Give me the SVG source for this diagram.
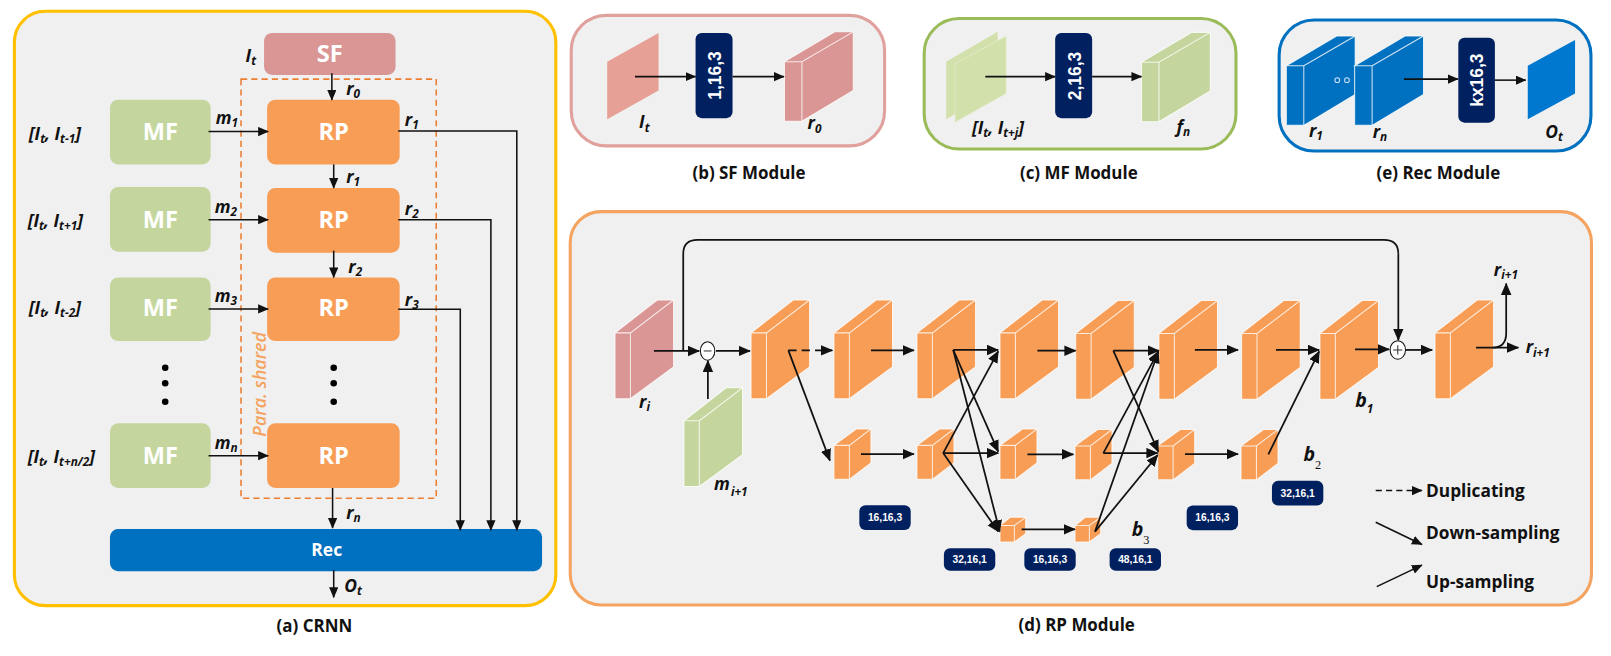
<svg xmlns="http://www.w3.org/2000/svg" width="1611" height="656" viewBox="0 0 1611 656">
<style>
text{font-family:"Open Sans","Liberation Sans",sans-serif;font-weight:700;fill:#111}
.cap{font-size:16.5px;text-anchor:middle}
.lbl{font-size:17px;font-style:italic}
.sub{font-size:11.5px}
.ser{font-family:"Liberation Serif",serif;font-weight:400;font-style:normal;font-size:12px}
.box{font-size:23px;fill:#fff;text-anchor:middle}
.bad{font-family:"Liberation Sans",sans-serif;font-size:10px;fill:#fff;text-anchor:middle}
.vb{font-family:"Liberation Sans",sans-serif;font-size:17px;fill:#fff;text-anchor:middle}
.leg{font-size:16.8px}
.panel{fill:#f0f0f0;stroke-width:3}
.ln{fill:none;stroke:#111;stroke-width:1.5}
.ar{marker-end:url(#a)}
.cube{stroke:#fff;stroke-width:1;stroke-opacity:.8}
#d-links .ln{stroke-width:1.7}
</style>
<defs>
<marker id="a" markerWidth="7" markerHeight="7" refX="6.5" refY="3" orient="auto" markerUnits="strokeWidth"><path d="M0 0L7 3L0 6Z" fill="#111"/></marker>
<g id="cb"><path class="cube" d="M0 32L41 0H57L15 32ZM15 32L57 0V65L15 96ZM0 32H15V96H0Z"/></g>
<g id="cs"><path class="cube" d="M0 16L22 0H36L15 16ZM15 16L36 0V33L15 49ZM0 16H15V49H0Z"/></g>
<g id="ct"><path class="cube" d="M0 8L10 0H25L14 8ZM14 8L25 0V16L14 24ZM0 8H14V24H0Z"/></g>
<g id="cm"><path class="cube" d="M0 29L49 0H67L17 29ZM17 29L67 0V57L17 87ZM0 29H17V87H0Z"/></g>
</defs>
<g id="root" transform="scale(1.02742)">
<g id="panel-a">
<rect class="panel" x="14" y="11" width="527" height="578.5" rx="30" stroke="#ffc000"/>
<rect x="234.6" y="77" width="190" height="408" fill="none" stroke="#ed7d31" stroke-width="1.5" stroke-dasharray="6 4"/>
<text transform="translate(259 425) rotate(-90)" font-size="17.5" style="font-style:italic;font-weight:600;fill:#f4a460">Para. shared</text>
<text class="cap" x="306" y="615">(a) CRNN</text>
</g>
<g id="node-sf"><rect x="257" y="32" width="128" height="41" rx="8" fill="#d99694"/><text class="box" x="321" y="60.6">SF</text><text class="lbl" x="239" y="60">I<tspan class="sub" dy="3">t</tspan></text></g>
<g id="node-rp1" fill="#f79d56"><rect x="260" y="97" width="129" height="63" rx="8"/><text class="box" x="324.8" y="136">RP</text></g>
<g id="node-rp2" fill="#f79d56"><rect x="260" y="183" width="129" height="63" rx="8"/><text class="box" x="324.8" y="222">RP</text></g>
<g id="node-rp3" fill="#f79d56"><rect x="260" y="270" width="129" height="62" rx="8"/><text class="box" x="324.8" y="308">RP</text></g>
<g id="node-rpn" fill="#f79d56"><rect x="260" y="412" width="129" height="63" rx="8"/><text class="box" x="324.8" y="451.6">RP</text></g>
<g id="node-mf1" fill="#c4d69e"><rect x="107" y="97" width="98" height="63" rx="8"/><text class="box" x="156" y="136">MF</text><text class="lbl" x="28" y="136">[I<tspan class="sub" dy="3">t</tspan><tspan dy="-3">, I</tspan><tspan class="sub" dy="3">t-1</tspan><tspan dy="-3">]</tspan></text></g>
<g id="node-mf2" fill="#c4d69e"><rect x="107" y="182" width="98" height="63" rx="8"/><text class="box" x="156" y="222">MF</text><text class="lbl" x="27" y="221">[I<tspan class="sub" dy="3">t</tspan><tspan dy="-3">, I</tspan><tspan class="sub" dy="3">t+1</tspan><tspan dy="-3">]</tspan></text></g>
<g id="node-mf3" fill="#c4d69e"><rect x="107" y="270" width="98" height="62" rx="8"/><text class="box" x="156" y="308">MF</text><text class="lbl" x="28" y="306">[I<tspan class="sub" dy="3">t</tspan><tspan dy="-3">, I</tspan><tspan class="sub" dy="3">t-2</tspan><tspan dy="-3">]</tspan></text></g>
<g id="node-mfn" fill="#c4d69e"><rect x="107" y="412" width="98" height="63" rx="8"/><text class="box" x="156" y="451.6">MF</text><text class="lbl" x="27" y="451">[I<tspan class="sub" dy="3">t</tspan><tspan dy="-3">, I</tspan><tspan class="sub" dy="3">t+n/2</tspan><tspan dy="-3">]</tspan></text></g>
<g id="dots" fill="#000"><circle cx="160.8" cy="358" r="3.2"/><circle cx="160.8" cy="373" r="3.2"/><circle cx="160.8" cy="391" r="3.2"/><circle cx="324.8" cy="358" r="3.2"/><circle cx="324.8" cy="373" r="3.2"/><circle cx="324.8" cy="391" r="3.2"/></g>
<g id="node-rec"><rect x="107" y="515" width="420.6" height="41" rx="8" fill="#0070c0"/><text x="318" y="541" font-size="17" style="fill:#fff;text-anchor:middle">Rec</text></g>
<g id="panel-b">
<rect class="panel" x="556" y="15" width="305" height="127" rx="34" stroke="#e0a09c"/>
<path d="M591 60L641 32V88L591 116Z" fill="#e6a095"/>
<rect x="677" y="32" width="36" height="83" rx="6" fill="#002060"/>
<text class="vb" transform="translate(702 73.5) rotate(-90)">1,16,3</text>
<use href="#cm" x="763.5" y="31" fill="#d99694"/>
<text class="lbl" x="622" y="125">I<tspan class="sub" dy="3">t</tspan></text>
<text class="lbl" x="786" y="126">r<tspan class="sub" dy="3">0</tspan></text>
<text class="cap" x="729" y="174.5">(b) SF Module</text>
<path class="ln ar" d="M618 74.6H677"/><path class="ln ar" d="M713 74.6H763"/>
</g>
<g id="panel-c">
<rect class="panel" x="899.5" y="18" width="303.5" height="127" rx="34" stroke="#9bbb59"/>
<path d="M921 60L971 31V88L921 116Z" fill="#d2e0ab"/>
<path d="M929.6 62L979.3 35V91L929.6 119Z" fill="#d2e0ab" stroke="#e8efd4" stroke-width=".6"/>
<rect x="1027" y="32" width="36" height="83" rx="6" fill="#002060"/>
<text class="vb" transform="translate(1052 74) rotate(-90)">2,16,3</text>
<use href="#cm" x="1111" y="31.5" fill="#c4d69e"/>
<text class="lbl" x="946" y="130">[I<tspan class="sub" dy="3">t</tspan><tspan dy="-3">, I</tspan><tspan class="sub" dy="3">t+j</tspan><tspan dy="-3">]</tspan></text>
<text class="lbl" x="1145" y="129">f<tspan class="sub" dy="3">n</tspan></text>
<text class="cap" x="1050" y="174.5">(c) MF Module</text>
<path class="ln ar" d="M959 74.6H1027"/><path class="ln ar" d="M1063 74.6H1111"/>
</g>
<g id="panel-e">
<rect class="panel" x="1245" y="19.5" width="303.5" height="127.5" rx="34" stroke="#0070c0"/>
<use href="#cm" x="1252" y="35" fill="#0070c0"/>
<use href="#cm" x="1318.5" y="35" fill="#0070c0"/>
<circle cx="1301.6" cy="78" r="2.3" fill="none" stroke="#cfe3f5"/><circle cx="1311" cy="78" r="2.3" fill="none" stroke="#cfe3f5"/>
<rect x="1419.4" y="36.7" width="35.6" height="82.7" rx="6" fill="#002060"/>
<text class="vb" transform="translate(1443.7 78) rotate(-90)">kx16,3</text>
<path d="M1487 64L1533 39V91L1487 116Z" fill="#0078d0"/>
<text class="lbl" x="1274" y="133">r<tspan class="sub" dy="3">1</tspan></text>
<text class="lbl" x="1336" y="134.6">r<tspan class="sub" dy="3">n</tspan></text>
<text class="lbl" x="1504" y="134">O<tspan class="sub" dy="3">t</tspan></text>
<text class="cap" x="1400" y="174.5">(e) Rec Module</text>
<path class="ln ar" d="M1366.5 77H1419"/><path class="ln ar" d="M1455 78H1485"/>
</g>
<g id="panel-d">
<rect class="panel" x="555" y="206" width="994" height="382.8" rx="30" stroke="#f4a460"/>
<text class="cap" x="1048" y="614">(d) RP Module</text>
</g>
<g id="blocks">
<use href="#cb" x="598.6" y="292" fill="#d99694"/>
<use href="#cb" x="665.7" y="377.5" fill="#c4d69e"/>
<use href="#cb" x="731" y="292" fill="#f79d56"/>
<use href="#cb" x="811.7" y="292" fill="#f79d56"/>
<use href="#cb" x="892.5" y="292" fill="#f79d56"/>
<use href="#cb" x="973.3" y="292" fill="#f79d56"/>
<use href="#cb" x="1047" y="292.5" fill="#f79d56"/>
<use href="#cb" x="1128" y="292.5" fill="#f79d56"/>
<use href="#cb" x="1208.5" y="292.5" fill="#f79d56"/>
<use href="#cb" x="1284.7" y="292.5" fill="#f79d56"/>
<use href="#cb" x="1396.7" y="292" fill="#f79d56"/>
<use href="#cs" x="811.7" y="417.5" fill="#f79d56"/>
<use href="#cs" x="892.5" y="417.5" fill="#f79d56"/>
<use href="#cs" x="973.3" y="417.5" fill="#f79d56"/>
<use href="#cs" x="1046.3" y="418" fill="#f79d56"/>
<use href="#cs" x="1126.8" y="418" fill="#f79d56"/>
<use href="#cs" x="1207.9" y="418" fill="#f79d56"/>
<use href="#ct" x="973.3" y="503.5" fill="#f79d56"/>
<use href="#ct" x="1046.3" y="503.5" fill="#f79d56"/>
</g>
<g id="badges" fill="#002060">
<rect x="836.4" y="491.8" width="50" height="24" rx="6"/><text class="bad" x="861.4" y="507.5">16,16,3</text>
<rect x="918.7" y="533.6" width="50" height="22" rx="6"/><text class="bad" x="943.7" y="548">32,16,1</text>
<rect x="997" y="533.6" width="50" height="22" rx="6"/><text class="bad" x="1022" y="548">16,16,3</text>
<rect x="1080" y="533.6" width="50" height="22" rx="6"/><text class="bad" x="1105" y="548">48,16,1</text>
<rect x="1155" y="492" width="50" height="24" rx="6"/><text class="bad" x="1180" y="507.5">16,16,3</text>
<rect x="1238" y="468" width="50" height="24" rx="6"/><text class="bad" x="1263" y="483.5">32,16,1</text>
</g>
<g id="labels">
<text class="lbl" x="337" y="92">r<tspan class="sub" dy="3">0</tspan></text>
<text class="lbl" x="337" y="178">r<tspan class="sub" dy="3">1</tspan></text>
<text class="lbl" x="339" y="266">r<tspan class="sub" dy="3">2</tspan></text>
<text class="lbl" x="337" y="505">r<tspan class="sub" dy="3">n</tspan></text>
<text class="lbl" x="335" y="576">O<tspan class="sub" dy="3">t</tspan></text>
<text class="lbl" x="394" y="122.5">r<tspan class="sub" dy="3">1</tspan></text>
<text class="lbl" x="394" y="209">r<tspan class="sub" dy="3">2</tspan></text>
<text class="lbl" x="394" y="298">r<tspan class="sub" dy="3">3</tspan></text>
<text class="lbl" x="210" y="120.7">m<tspan class="sub" dy="3">1</tspan></text>
<text class="lbl" x="209" y="207.6">m<tspan class="sub" dy="3">2</tspan></text>
<text class="lbl" x="209" y="293.6">m<tspan class="sub" dy="3">3</tspan></text>
<text class="lbl" x="209" y="437">m<tspan class="sub" dy="3">n</tspan></text>
<text class="lbl" x="622" y="397.4">r<tspan class="sub" dy="3">i</tspan></text>
<text class="lbl" x="695" y="477">m<tspan class="sub" dx="1" dy="6">i+1</tspan></text>
<text class="lbl" x="1319" y="396" style="font-size:19px">b<tspan class="sub" dy="6">1</tspan></text>
<text class="lbl" x="1268.6" y="449" style="font-size:19px">b<tspan class="ser" dy="7">2</tspan></text>
<text class="lbl" x="1101.5" y="522" style="font-size:19px">b<tspan class="ser" dy="7">3</tspan></text>
<text class="lbl" x="1454" y="269">r<tspan class="sub" dy="3">i+1</tspan></text>
<text class="lbl" x="1485" y="344">r<tspan class="sub" dy="3">i+1</tspan></text>
<text class="leg" x="1388" y="484">Duplicating</text>
<text class="leg" x="1388" y="525">Down-sampling</text>
<text class="leg" x="1388" y="572.6">Up-sampling</text>
</g>
<g id="connectors">
<path class="ln ar" d="M323 71.4V97.3"/><path class="ln ar" d="M324.8 160V183"/><path class="ln ar" d="M324.8 244V270"/><path class="ln ar" d="M323.7 475V514"/><path class="ln ar" d="M324.8 555V581.4"/>
<path class="ln ar" d="M203 128H261"/><path class="ln ar" d="M203 213.8H261"/><path class="ln ar" d="M203 300.7H261"/><path class="ln ar" d="M203 443.5H261"/>
<path class="ln ar" d="M387.6 127.5H503V516"/><path class="ln ar" d="M387.6 213.8H477.8V516"/><path class="ln ar" d="M387.6 301H448V516"/>
<g id="d-links">
<path class="ln ar" d="M636.5 341.6H680.6"/><path class="ln" d="M665 341.6V247Q665 233.5 679 233.5H1347Q1361 233.5 1361 247"/><path class="ln ar" d="M1361 247V331"/>
<path class="ln ar" d="M689 388.3V351"/><path class="ln ar" d="M696.9 341.6H730"/>
<path class="ln ar" d="M767.3 341H810" stroke-dasharray="8 5"/><path class="ln ar" d="M767.3 341L807.8 448.3"/><path class="ln ar" d="M847.7 341H889.5"/>
<path class="ln ar" d="M927.8 340.6H971.6"/><path class="ln ar" d="M927.8 340.6L971.6 439.6"/><path class="ln ar" d="M927.8 340.6L973 517.4"/>
<path class="ln ar" d="M838 442H889.5"/><path class="ln ar" d="M918 441L971.6 342"/><path class="ln ar" d="M918 441H971.6"/><path class="ln ar" d="M918 441L971.6 517.4"/>
<path class="ln ar" d="M1009.7 341.3H1047"/><path class="ln ar" d="M1083.6 341.3H1128"/><path class="ln ar" d="M1083.6 341.3L1127.4 439.6"/>
<path class="ln ar" d="M1000 442.2H1044.7"/><path class="ln ar" d="M1073.9 441L1127.4 342.2"/><path class="ln ar" d="M1073.9 441H1126.8"/>
<path class="ln ar" d="M994.4 515.2H1046.3"/><path class="ln ar" d="M1065.8 517.4L1127.4 342.2"/><path class="ln ar" d="M1065.8 517.4L1126.8 442.8"/>
<path class="ln ar" d="M1163 340.6H1205"/><path class="ln ar" d="M1241.9 340.6H1284"/><path class="ln ar" d="M1153.4 442H1205"/><path class="ln ar" d="M1234.5 442.2L1284 342"/>
<path class="ln ar" d="M1318.9 340H1352"/><path class="ln ar" d="M1368 340.6H1394"/><path class="ln ar" d="M1436.6 338.3H1477.8"/><path class="ln ar" d="M1453 338.3Q1466 338 1466 324V276"/>
</g>
<path class="ln ar" d="M1339 477.5H1384" stroke-dasharray="6 4"/><path class="ln ar" d="M1339 508.3L1384 530"/><path class="ln ar" d="M1340 571L1384 550"/>
</g>
<g id="ops">
<ellipse cx="688.7" cy="341.6" rx="7" ry="9" fill="#fff" stroke="#111" stroke-width="1"/><path d="M685 341.6H692.5" stroke="#333"/>
<ellipse cx="1360.5" cy="340.6" rx="7.5" ry="9" fill="#fff" stroke="#111" stroke-width="1"/><path d="M1356 340.6H1365M1360.5 336V345" stroke="#333"/>
</g>
</g>
</svg>
